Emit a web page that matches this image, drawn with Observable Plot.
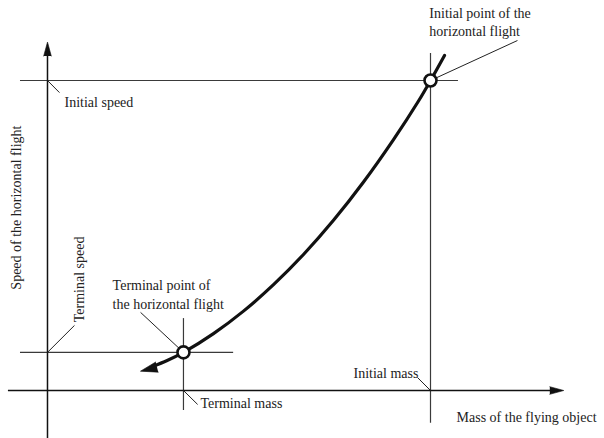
<!DOCTYPE html>
<html>
<head>
<meta charset="utf-8">
<script src="https://cdn.jsdelivr.net/npm/d3@7"></script>
<script src="https://cdn.jsdelivr.net/npm/@observablehq/plot@0.6"></script>
<style>
  html, body { margin: 0; padding: 0; background: #fff; }
  #chart svg { display: block; }
  #chart svg text { font-family: "Liberation Serif", "Times New Roman", serif; }
</style>
</head>
<body>
<div id="chart"></div>
<script>
// Schematic units: mass (0 = origin, 100 = initial mass), speed (0 = origin, 100 = initial speed)
const curveMass  = [103.66, 100.0, 96.87, 90.34, 82.51, 74.67, 66.84, 59.01, 51.17, 43.34, 35.5, 31.25, 27.42];
const curveSpeed = [108.1, 100.0, 93.39, 80.94, 67.26, 54.90, 43.87, 34.13, 25.61, 18.35, 12.3, 9.68, 7.74];

const pointMass  = [100, 35.5];
const pointSpeed = [100, 12.3];

// reference lines
const hLineSpeed = [100, 12.3];
const hLineFrom  = [-7.05, -7.05];
const hLineTo    = [107.3, 48.6];
const vLineMass  = [100, 35.5];
const vLineFrom  = [-10.6, -6.45];
const vLineTo    = [108.7, 23.2];

// axes
const axisX = {x1: -10.2, x2: 132.0, y: 0};
const axisY = {x: 0, y1: -15.5, y2: 109.0};

// leader lines
const leaderX1 = [100, 0, 0, 35.5, 35.5, 100];
const leaderY1 = [100, 100, 12.3, 12.3, 0, 0];
const leaderX2 = [122.7, 3.13, 7.05, 24.3, 39.2, 96.6];
const leaderY2 = [112.9, 96.1, 21.0, 25.2, -4.5, 4.2];

// arrow heads (tips)
const headMass   = [0, 134.8, 24.28];
const headSpeed  = [112.4, 0, 6.23];
const headAngle  = [0, 90, 256];
const headLength = [14, 14, 17];
const headWidth  = [3.8, 3.8, 5.2];

// labels
const labelText = ["Initial point of the\nhorizontal flight", "Initial speed", "Terminal point of\nthe horizontal flight", "Initial mass", "Terminal mass", "Mass of the flying object"];
const labelMass  = [99.7, 4.44, 17.0, 79.9, 39.95, 106.8];
const labelSpeed = [114.2, 91.6, 26.45, 4.19, -5.8, -10.0];

const axisTitleY = "Speed of the horizontal flight";
const axisTitleMass = -6.79;
const axisTitleSpeed = 59.0;
const terminalSpeedText = "Terminal speed";
const terminalSpeedMass = 9.66;
const terminalSpeedSpeed = 22.0;

const idx = (a) => a.map((_, i) => i);
const font = "Liberation Serif, Times New Roman, serif";

const heads = idx(headMass).map((i) =>
  Plot.vector([i], {x: (k) => headMass[k], y: (k) => headSpeed[k], rotate: headAngle[i], length: headLength[i], r: headWidth[i], shape: "spike", anchor: "end", fill: "#111", stroke: "#111", strokeWidth: 0.6})
);

const chart = Plot.plot({
  width: 604,
  height: 438,
  margin: 0,
  x: {domain: [-12.27, 145.43], axis: null},
  y: {domain: [-15.48, 125.81], axis: null},
  style: {fontFamily: font, background: "#fff"},
  marks: [
    // reference lines
    Plot.ruleY(idx(hLineSpeed), {y: (i) => hLineSpeed[i], x1: (i) => hLineFrom[i], x2: (i) => hLineTo[i], stroke: "#3a3a3a", strokeWidth: 1.2}),
    Plot.ruleX(idx(vLineMass), {x: (i) => vLineMass[i], y1: (i) => vLineFrom[i], y2: (i) => vLineTo[i], stroke: "#3a3a3a", strokeWidth: 1.2}),
    // axes
    Plot.ruleY([axisX], {y: "y", x1: "x1", x2: "x2", stroke: "#111", strokeWidth: 1.5}),
    Plot.ruleX([axisY], {x: "x", y1: "y1", y2: "y2", stroke: "#111", strokeWidth: 1.5}),
    // leaders
    Plot.link(idx(leaderX1), {x1: (i) => leaderX1[i], y1: (i) => leaderY1[i], x2: (i) => leaderX2[i], y2: (i) => leaderY2[i], stroke: "#222", strokeWidth: 1}),
    // curve
    Plot.line(idx(curveMass), {x: (i) => curveMass[i], y: (i) => curveSpeed[i], curve: "catmull-rom", stroke: "#111", strokeWidth: 3.2}),
    // arrow heads
    ...heads,
    // points
    Plot.dot(idx(pointMass), {x: (i) => pointMass[i], y: (i) => pointSpeed[i], r: 6, fill: "#fff", stroke: "#111", strokeWidth: 2.6}),
    // labels
    Plot.text(idx(labelText), {x: (i) => labelMass[i], y: (i) => labelSpeed[i], text: (i) => labelText[i], textAnchor: "start", lineAnchor: "bottom", lineHeight: 1.29, fontSize: 14, fontFamily: font, fill: "#222"}),
    Plot.text([axisTitleY], {x: axisTitleMass, y: axisTitleSpeed, text: (d) => d, textAnchor: "middle", rotate: -90, lineAnchor: "bottom", fontSize: 14, fontFamily: font, fill: "#222"}),
    Plot.text([terminalSpeedText], {x: terminalSpeedMass, y: terminalSpeedSpeed, text: (d) => d, textAnchor: "start", rotate: -90, lineAnchor: "bottom", fontSize: 14, fontFamily: font, fill: "#222"})
  ]
});
document.getElementById("chart").appendChild(chart);
</script>
</body>
</html>
